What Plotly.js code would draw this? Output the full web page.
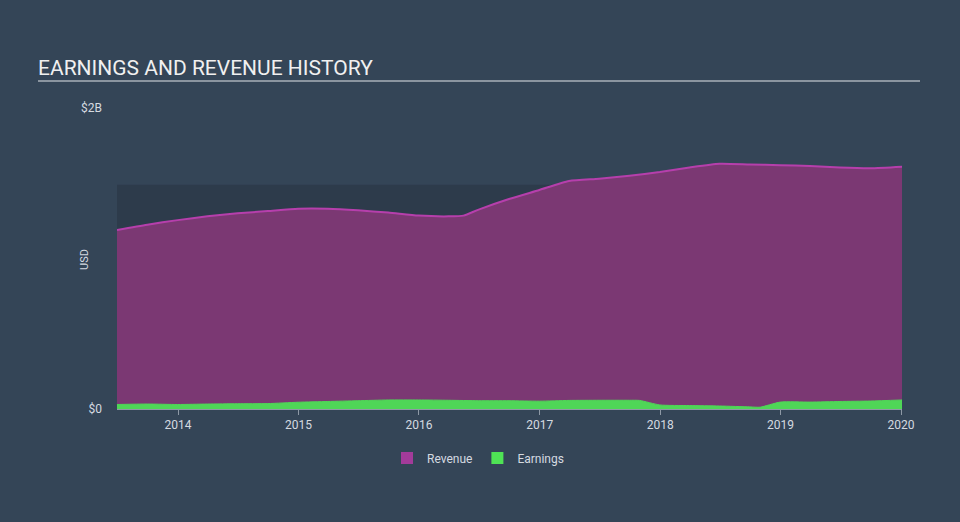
<!DOCTYPE html>
<html>
<head>
<meta charset="utf-8">
<script src="https://cdn.plot.ly/plotly-3.0.1.min.js"></script>
<style>
html,body{margin:0;padding:0;background:#344557;}
#chart{width:960px;height:522px;}
</style>
</head>
<body>
<div id="chart"></div>
<script>
const revDates = ['2013-06-30','2013-09-30','2013-12-31','2014-03-31','2014-06-30','2014-09-30','2014-12-31','2015-03-31','2015-06-30','2015-09-30','2015-12-31','2016-03-31','2016-05-15','2016-06-30','2016-09-30','2016-12-31','2017-03-31','2017-06-30','2017-09-30','2017-12-31','2018-03-31','2018-06-30','2018-09-30','2018-12-31','2019-03-31','2019-06-30','2019-09-30','2020-01-04'];
const revenue = [1.19,1.225,1.255,1.28,1.30,1.315,1.33,1.33,1.32,1.305,1.285,1.28,1.285,1.325,1.395,1.455,1.515,1.53,1.55,1.575,1.605,1.63,1.625,1.62,1.615,1.605,1.60,1.61];
const earnDates = ['2013-06-30','2013-09-30','2013-12-31','2014-03-31','2014-06-30','2014-09-30','2014-12-31','2015-03-31','2015-06-30','2015-09-30','2015-12-31','2016-03-31','2016-06-30','2016-09-30','2016-12-31','2017-03-31','2017-06-30','2017-09-30','2017-10-31','2017-12-31','2018-03-31','2018-06-30','2018-09-30','2018-10-31','2018-12-31','2019-03-31','2019-06-30','2019-09-30','2020-01-04'];
const earnings = [0.03,0.033,0.03,0.033,0.035,0.036,0.045,0.05,0.055,0.06,0.06,0.058,0.055,0.055,0.052,0.057,0.058,0.058,0.057,0.027,0.023,0.02,0.014,0.012,0.046,0.046,0.05,0.053,0.06];
const yTickVals = [0, 2e9];
const yTickText = ['$0', '$2B'];
const xTickVals = ['2014-01-01','2015-01-01','2016-01-01','2017-01-01','2018-01-01','2019-01-01','2020-01-01'];
const xTickText = ['2014','2015','2016','2017','2018','2019','2020'];

const B = 1e9;
const traces = [
  {x: revDates, y: revenue.map(v => v*B), type:'scatter', mode:'lines', fill:'tozeroy',
   line:{color:'#b63fac', width:2, shape:'spline', smoothing:0.6}, fillcolor:'#7b3873', showlegend:false, hoverinfo:'skip'},
  {x: earnDates, y: earnings.map(v => v*B), type:'scatter', mode:'lines', fill:'tozeroy',
   line:{color:'#4fd657', width:1, shape:'spline', smoothing:0.6}, fillcolor:'#4fd657', showlegend:false, hoverinfo:'skip'},
  {x:[null], y:[null], type:'bar', name:'Revenue', marker:{color:'#a33b9a'}},
  {x:[null], y:[null], type:'bar', name:'Earnings', marker:{color:'#4fe355'}}
];

const layout = {
  width:960, height:522,
  paper_bgcolor:'#344557', plot_bgcolor:'rgba(0,0,0,0)',
  margin:{l:117, r:58, t:108, b:113},
  font:{family:'Roboto, "Open Sans", sans-serif', color:'#d5dae0'},
  title:{text:'EARNINGS AND REVENUE HISTORY', x:38/960, xanchor:'left', xref:'container',
         y:1-68/522, yanchor:'middle', yref:'container', font:{size:21, color:'#f0f0f0', family:'Roboto, sans-serif'}},
  xaxis:{type:'date', range:['2013-06-30','2020-01-04'], tickvals:xTickVals, ticktext:xTickText,
         showgrid:false, zeroline:false, showline:true, linecolor:'#8e99a5', linewidth:1,
         ticks:'outside', ticklen:5, tickcolor:'#8e99a5', tickfont:{size:12, color:'#d5dae0'}, fixedrange:true},
  yaxis:{range:[0, 2e9], tickvals:yTickVals, ticktext:yTickText, showgrid:false, zeroline:false, showline:false,
         ticks:'', ticklabelstandoff:14, tickfont:{size:12, color:'#d5dae0'}, fixedrange:true},
  legend:{orientation:'h', x:(478-117)/785, xanchor:'center', y:(409-458)/301, yanchor:'middle',
          font:{size:12, color:'#d5dae0'}, bgcolor:'rgba(0,0,0,0)', itemwidth:30},
  barmode:'overlay',
  annotations:[
    {text:'USD', xref:'paper', yref:'paper', x:(84-117)/785, y:(409-260)/301, xanchor:'center', yanchor:'middle',
     textangle:-90, showarrow:false, font:{size:11, color:'#d5dae0'}}
  ],
  shapes:[
    {type:'rect', xref:'paper', yref:'y', x0:0, x1:1, y0:0, y1:1.49e9, fillcolor:'#2d3b4b', line:{width:0}, layer:'below'},
    {type:'line', xref:'paper', yref:'paper', x0:(38-117)/785, x1:(920-117)/785, y0:(409-81)/301, y1:(409-81)/301,
     line:{color:'#a9b0b8', width:1.5}}
  ]
};
Plotly.newPlot('chart', traces, layout, {displayModeBar:false, staticPlot:true});
</script>
</body>
</html>
